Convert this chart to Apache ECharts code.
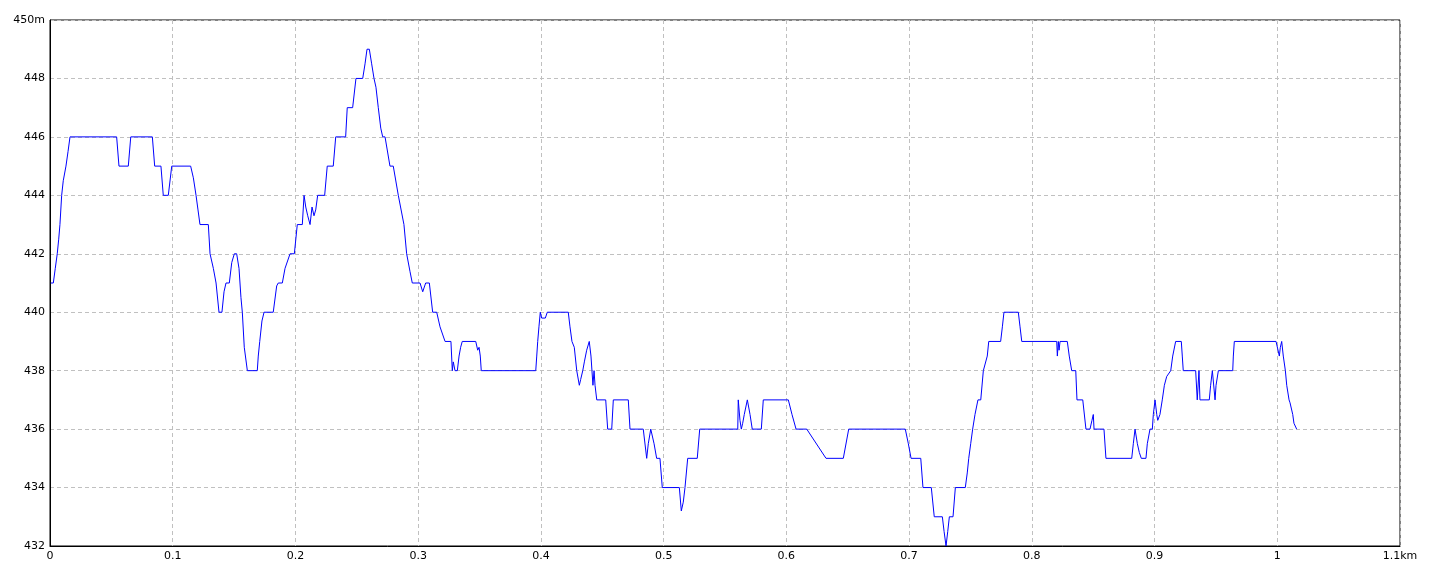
<!DOCTYPE html>
<html>
<head>
<meta charset="utf-8">
<script src="https://cdn.jsdelivr.net/npm/echarts@6/dist/echarts.min.js"></script>
<style>
html,body{margin:0;padding:0;background:#fff;}
#chart{width:1440px;height:576px;}
</style>
</head>
<body>
<div id="chart"></div>
<script>
// Distance along track (km)
const distKm = [
0.0006,0.0027,0.0043,0.0059,0.0071,0.0081,0.0095,0.0108,0.0130,0.0147,0.0163,
0.0543,0.0562,0.0638,0.0658,0.0834,0.0853,0.0904,0.0923,0.0964,0.0992,
0.1146,0.1168,0.1190,0.1206,0.1222,0.1290,0.1304,0.1331,0.1353,0.1377,0.1401,0.1418,0.1434,0.1461,0.1481,0.1502,0.1521,0.1540,0.1556,
0.1567,0.1583,0.1608,0.1689,0.1697,0.1709,0.1727,0.1744,0.1819,0.1847,0.1860,0.1893,0.1915,0.1956,0.1991,
0.2015,0.2056,0.2070,0.2084,0.2100,0.2119,0.2135,0.2151,0.2165,0.2181,0.2238,0.2259,0.2308,0.2328,0.2409,0.2422,0.2466,0.2493,0.2548,0.2567,0.2583,0.2602,0.2621,0.2640,0.2656,0.2675,0.2695,0.2711,0.2730,0.2770,0.2797,0.2838,0.2884,0.2906,0.2933,0.2952,
0.3015,0.3037,0.3061,0.3091,0.3118,0.3151,0.3178,0.3219,0.3267,0.3278,0.3286,0.3300,0.3319,0.3333,0.3346,0.3359,0.3469,0.3485,0.3496,0.3506,0.3514,0.3958,0.3966,0.3974,0.3984,0.3995,
0.4006,0.4036,0.4052,0.4223,0.4237,0.4253,0.4272,0.4292,0.4313,0.4324,0.4341,0.4354,0.4373,0.4394,0.4408,0.4416,0.4424,0.4433,0.4441,0.4455,0.4528,0.4544,0.4577,0.4590,0.4712,0.4726,0.4834,0.4862,0.4875,0.4895,0.4905,0.4922,0.4943,0.4970,0.4989,
0.5128,0.5144,0.5160,0.5174,0.5196,0.5274,0.5294,0.5604,0.5608,0.5622,0.5633,0.5644,0.5657,0.5682,0.5704,0.5722,0.5796,0.5812,
0.6016,0.6046,0.6079,0.6166,0.6323,0.6464,0.6508,0.6969,0.6994,
0.7016,0.7095,0.7113,0.7181,0.7205,0.7271,0.7285,0.7301,0.7315,0.7328,0.7358,0.7377,0.7458,0.7474,0.7486,0.7502,0.7518,0.7537,0.7561,0.7584,0.7605,0.7637,0.7649,0.7746,0.7760,0.7773,0.7890,0.7904,0.7918,
0.8203,0.8208,0.8216,0.8222,0.8230,0.8289,0.8305,0.8325,0.8358,0.8368,0.8415,0.8441,0.8474,0.8490,0.8501,0.8507,0.8588,0.8604,0.8814,0.8827,0.8841,0.8860,0.8876,0.8892,0.8930,0.8941,0.8963,0.8982,0.8990,
0.9004,0.9018,0.9026,0.9044,0.9063,0.9080,0.9099,0.9132,0.9148,0.9172,0.9218,0.9226,0.9234,0.9335,0.9348,0.9362,0.9370,0.9446,0.9457,0.9471,0.9493,0.9501,0.9520,0.9637,0.9642,0.9650,0.9990,
1.0017,1.0025,1.0036,1.0049,1.0066,1.0077,1.0096,1.0104,1.0126,1.0136,1.0158
];
// Elevation (m)
const elevM = [
441,441,441.5,442,442.5,443,444,444.5,445,445.5,446,
446,445,445,446,446,445,445,444,444,445,
445,444.6,444,443.5,443,443,442,441.5,441,440,440,440.7,441,441,441.7,442,442,441.5,440.5,
440,438.8,438,438,438.5,439,439.7,440,440,440.9,441,441,441.5,442,442,
443,443,444,443.6,443.3,443,443.6,443.3,443.5,444,444,445,445,446,446,447,447,448,448,448.5,449,449,448.5,448,447.7,447,446.3,446,446,445,445,444,443,442,441.4,441,
441,440.7,441,441,440,440,439.5,439,439,438,438.3,438,438,438.5,438.8,439,439,438.7,438.8,438.5,438,438,438.5,439,439.5,440,
439.8,439.8,440,440,439.5,439,438.8,438,437.5,437.7,438,438.3,438.7,439,438.5,438,437.5,438,437.5,437,437,436,436,437,437,436,436,435,435.5,436,436,435.5,435,435,434,
434,433.2,433.5,434,435,435,436,436,437,436.3,436,436.2,436.5,437,436.5,436,436,437,
437,436.5,436,436,435,435,436,436,435.5,
435,435,434,434,433,433,432.5,432,432.5,433,433,434,434,434.5,435,435.5,436,436.5,437,437,438,438.5,439,439,439.5,440,440,439.5,439,
439,438.5,439,438.7,439,439,438.5,438,438,437,437,436,436,436.3,436.5,436,436,435,435,435.5,436,435.5,435.2,435,435,435.5,436,436,436.5,
437,436.5,436.3,436.5,437,437.5,437.8,438,438.5,439,439,438.5,438,438,437,438,437,437,437.5,438,437,437.5,438,438,438.5,439,439,
438.5,438.8,439,438.5,438,437.5,437,436.9,436.5,436.2,436
];
// Tick labels
const xTickValues = [0,0.1,0.2,0.3,0.4,0.5,0.6,0.7,0.8,0.9,1,1.1];
const xTickLabels = ['0','0.1','0.2','0.3','0.4','0.5','0.6','0.7','0.8','0.9','1','1.1km'];
const yTickValues = [432,434,436,438,440,442,444,446,448,450];
const yTickLabels = ['432','434','436','438','440','442','444','446','448','450m'];

const points = distKm.map((d, i) => [d, elevM[i]]);

function lookup(vals, labels, v) {
  for (let i = 0; i < vals.length; i++) {
    if (Math.abs(vals[i] - v) < 1e-6) return labels[i];
  }
  return '';
}

const chart = echarts.init(document.getElementById('chart'), null, {renderer: 'canvas'});
const labelFont = {color: '#000', fontSize: 11, fontFamily: 'DejaVu Sans'};
chart.setOption({
  animation: false,
  backgroundColor: '#ffffff',
  grid: {
    left: 50, right: 40, top: 20, bottom: 30,
    show: true, borderColor: '#000', borderWidth: 1, backgroundColor: 'transparent'
  },
  xAxis: {
    type: 'value', min: 0, max: 1.1, interval: 0.1,
    axisLine: {show: true, lineStyle: {color: '#000', width: 1}},
    axisTick: {show: false},
    splitLine: {show: true, lineStyle: {color: '#c0c0c0', type: [4, 3], width: 1}},
    axisLabel: Object.assign({margin: 5, showMaxLabel: true, showMinLabel: true,
      formatter: v => lookup(xTickValues, xTickLabels, v)}, labelFont)
  },
  yAxis: {
    type: 'value', min: 432, max: 450, interval: 2,
    axisLine: {show: true, lineStyle: {color: '#000', width: 1}},
    axisTick: {show: false},
    splitLine: {show: true, lineStyle: {color: '#c0c0c0', type: [4, 3], width: 1}},
    axisLabel: Object.assign({margin: 5, showMaxLabel: true, showMinLabel: true,
      formatter: v => lookup(yTickValues, yTickLabels, v)}, labelFont)
  },
  series: [{
    type: 'line',
    data: points,
    showSymbol: false,
    symbol: 'none',
    lineStyle: {color: '#0000ff', width: 1},
    itemStyle: {color: '#0000ff'},
    emphasis: {disabled: true}
  }]
});
</script>
</body>
</html>
